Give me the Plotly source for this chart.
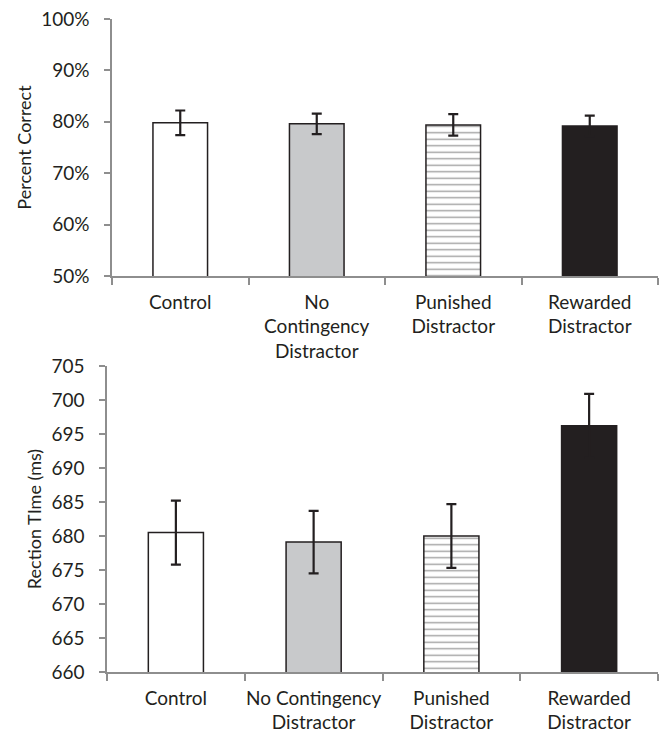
import plotly.graph_objects as go

# ---- data ----
top_categories = ["Control", "No<br>Contingency<br>Distractor", "Punished<br>Distractor", "Rewarded<br>Distractor"]
bottom_categories = ["Control", "No Contingency<br>Distractor", "Punished<br>Distractor", "Rewarded<br>Distractor"]
percent_correct = [79.8, 79.6, 79.4, 79.2]
percent_err = [2.4, 2.0, 2.1, 2.0]
reaction_time = [680.5, 679.1, 680.0, 696.2]
reaction_err = [4.7, 4.6, 4.7, 4.7]
pct_ticks = [50, 60, 70, 80, 90, 100]
pct_tick_labels = ["50%", "60%", "70%", "80%", "90%", "100%"]
rt_ticks = [660, 665, 670, 675, 680, 685, 690, 695, 700, 705]

# ---- styles ----
FONT = "Lato, 'Open Sans', sans-serif"
DARK = "#231f20"
AXIS = "#8e8e8e"
TXT = "#231f20"
fills = ["#ffffff", "#c8c9cb", "#ffffff", DARK]
shapes = ["", "", "-", ""]

def bar_trace(cats, vals, errs, xa, ya):
    return go.Bar(
        x=cats, y=vals, xaxis=xa, yaxis=ya, width=0.4,
        marker=dict(
            color=fills,
            line=dict(color=DARK, width=1.5),
            pattern=dict(shape=shapes, fgcolor="#3a3a3a", bgcolor="#ffffff",
                         size=6.5, solidity=0.22, fillmode="overlay"),
        ),
        error_y=dict(type="data", array=errs, visible=True, color=DARK,
                     thickness=2.2, width=5),
        showlegend=False, hoverinfo="skip",
    )

fig = go.Figure()
fig.add_trace(bar_trace(top_categories, percent_correct, percent_err, "x", "y"))
fig.add_trace(bar_trace(bottom_categories, reaction_time, reaction_err, "x2", "y2"))

W, H = 662, 735
xcommon = dict(type="category", tickson="boundaries", ticks="outside", ticklen=7,
               tickwidth=1.5, tickcolor=AXIS, showline=True, linecolor=AXIS,
               linewidth=1.5, showgrid=False, zeroline=False, tickangle=0,
               ticklabelstandoff=8, automargin=False,
               tickfont=dict(family=FONT, size=19, color=TXT),
               range=[-0.5, 3.5])
ycommon = dict(ticks="outside", ticklen=6, tickwidth=1.5, tickcolor=AXIS,
               showline=True, linecolor=AXIS, linewidth=1.5, showgrid=False,
               zeroline=False, ticklabelstandoff=11, automargin=False,
               tickfont=dict(family=FONT, size=19, color=TXT))

fig.update_layout(
    width=W, height=H, autosize=False,
    margin=dict(l=0, r=0, t=0, b=0),
    paper_bgcolor="white", plot_bgcolor="white",
    xaxis=dict(xcommon, domain=[112 / W, 658 / W], anchor="y"),
    yaxis=dict(ycommon, domain=[1 - 276 / H, 1 - 19 / H], anchor="x",
               range=[50, 100], tickmode="array", tickvals=pct_ticks,
               ticktext=pct_tick_labels,
               title=dict(text="Percent Correct", standoff=5,
                          font=dict(family=FONT, size=18, color=TXT))),
    xaxis2=dict(xcommon, domain=[107 / W, 658 / W], anchor="y2"),
    yaxis2=dict(ycommon, domain=[1 - 672 / H, 1 - 366 / H], anchor="x2",
                range=[660, 705], tickmode="array", tickvals=rt_ticks,
                title=dict(text="Rection TIme (ms)", standoff=5,
                           font=dict(family=FONT, size=18, color=TXT))),
)

fig.write_html("out.html",
               config={"displayModeBar": False},
               post_script="document.body.style.margin='0';document.body.style.overflow='hidden';")
